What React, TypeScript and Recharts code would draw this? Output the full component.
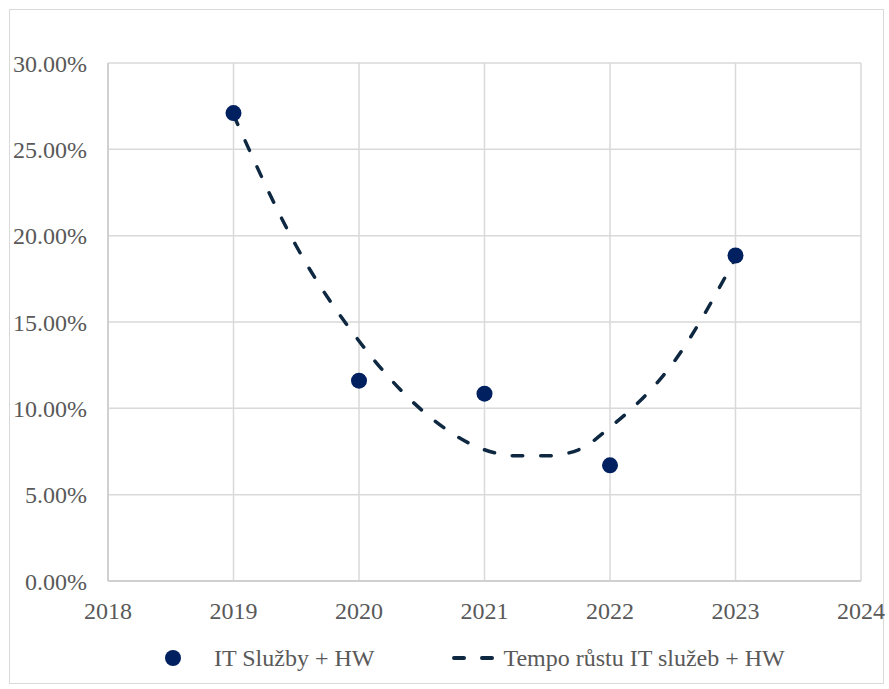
import {
  ComposedChart,
  Line,
  Scatter,
  XAxis,
  YAxis,
  CartesianGrid,
} from 'recharts';

const seriesName = 'IT Služby + HW';
const trendName = 'Tempo růstu IT služeb + HW';

const years = [2019, 2020, 2021, 2022, 2023];
const values = [27.1, 11.6, 10.85, 6.7, 18.85];

// trend line at half / quarter years
const trendYears = [2019, 2019.5, 2020, 2020.5, 2021, 2021.25, 2021.5, 2021.75, 2022, 2022.5, 2023];
const trendValues = [27.0, 19.4, 13.9, 9.9, 7.6, 7.25, 7.25, 7.6, 8.9, 12.6, 18.7];

const xTicks = [2018, 2019, 2020, 2021, 2022, 2023, 2024];
const yTicks = [0, 5, 10, 15, 20, 25, 30];

const points = years.map((year, i) => ({ year, value: values[i] }));
const trend = trendYears.map((year, i) => ({ year, trend: trendValues[i] }));

const FONT = '"Liberation Serif", "Times New Roman", serif';
const TEXT = '#595959';
const DOT = '#002060';
const TREND = '#0e2841';

const dot = (p: any) => <circle cx={p.cx} cy={p.cy} r={8} fill={DOT} />;

export default function App() {
  return (
    <div style={{ position: 'absolute', left: 0, top: 0, width: 889, height: 689, background: '#fff', fontFamily: FONT }}>
      <div
        style={{
          position: 'absolute', left: 9, top: 9, width: 873, height: 673,
          border: '1px solid #d9d9d9',
        }}
      />
      <ComposedChart
        width={889}
        height={689}
        margin={{ top: 63, right: 28, left: 8, bottom: 68 }}
        style={{ position: 'absolute', left: 0, top: 0 }}
      >
        <CartesianGrid stroke="#d9d9d9" strokeWidth={1.5} />
        <XAxis
          type="number"
          dataKey="year"
          domain={[2018, 2024]}
          ticks={xTicks}
          height={40}
          tickSize={0}
          tickMargin={21}
          axisLine={{ stroke: '#d0d0d0', strokeWidth: 2 }}
          tick={{ fill: TEXT, fontSize: 24, fontFamily: FONT }}
        />
        <YAxis
          type="number"
          domain={[0, 30]}
          ticks={yTicks}
          width={100}
          tickSize={0}
          tickMargin={21}
          axisLine={{ stroke: '#d0d0d0', strokeWidth: 2 }}
          tickFormatter={(v: number) => `${v.toFixed(2)}%`}
          tick={{ fill: TEXT, fontSize: 24, fontFamily: FONT }}
        />
        <Line
          data={trend}
          dataKey="trend"
          name={trendName}
          type="monotone"
          stroke={TREND}
          strokeWidth={3.5}
          strokeDasharray="10.5 18"
          strokeLinecap="round"
          dot={false}
          activeDot={false}
          isAnimationActive={false}
        />
        <Scatter
          data={points}
          dataKey="value"
          name={seriesName}
          fill={DOT}
          shape={dot}
          isAnimationActive={false}
        />
      </ComposedChart>
      <div
        style={{
          position: 'absolute', left: 165, top: 644, height: 28,
          display: 'flex', alignItems: 'center', fontSize: 24, color: TEXT, whiteSpace: 'nowrap',
        }}
      >
        <svg width={16} height={16} style={{ marginRight: 33 }}>
          <circle cx={8} cy={8} r={8} fill={DOT} />
        </svg>
        <span>{seriesName}</span>
        <svg width={42} height={8} style={{ marginLeft: 78, marginRight: 9 }}>
          <line x1={2} y1={4} x2={40} y2={4} stroke={TREND} strokeWidth={4} strokeLinecap="round" strokeDasharray="10 18" />
        </svg>
        <span>{trendName}</span>
      </div>
    </div>
  );
}
